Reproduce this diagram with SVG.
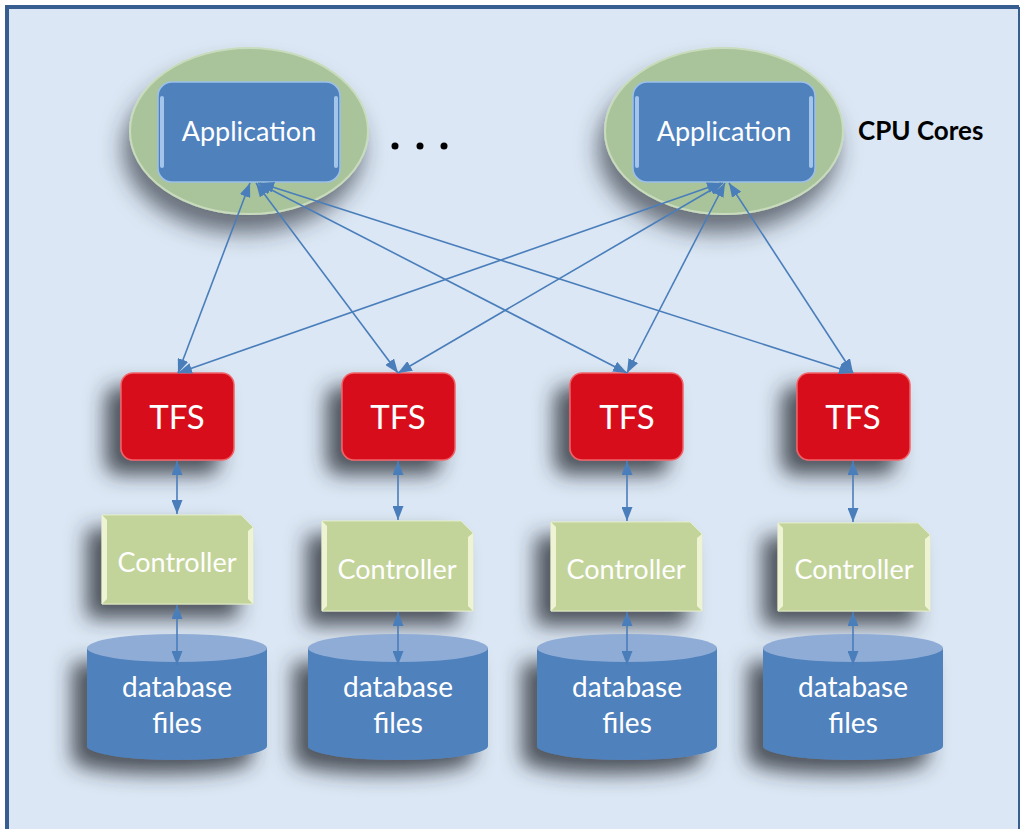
<svg xmlns="http://www.w3.org/2000/svg" width="1021" height="829" viewBox="0 0 1021 829">
<defs>
<style>
.lbl{font-family:Lato,"Open Sans","Liberation Sans",sans-serif;fill:#ffffff;text-anchor:middle}
.conn{stroke:#4a7ebb;stroke-width:1.6;fill:none;marker-start:url(#ah);marker-end:url(#ah)}
.app{fill:#4f81bd;stroke:#9cc0ea;stroke-width:1.5}
.tfs{fill:#d7111b;stroke:#f0636a;stroke-width:1.5}
.ctl{fill:#c3d49b;stroke:#e2ebc5;stroke-width:1}
.cyl{fill:#4f81bd}
.cyltop{fill:#8eacd6}
.core{fill:#a9c49b;stroke:#c9dbbd;stroke-width:2}
</style>
<marker id="ah" viewBox="0 0 14 11" refX="14" refY="5.5" markerWidth="14" markerHeight="11" markerUnits="userSpaceOnUse" orient="auto-start-reverse">
<path d="M0,0 L14,5.5 L0,11 z" fill="#4a7ebb"/>
</marker>
<filter id="sh" x="-50%" y="-50%" width="200%" height="200%">
<feDropShadow dx="-15" dy="14" stdDeviation="10" flood-color="#2a3038" flood-opacity="0.8"/>
</filter>
<filter id="shc" x="-40%" y="-40%" width="180%" height="180%">
<feDropShadow dx="-6" dy="18" stdDeviation="11" flood-color="#2a3038" flood-opacity="0.65"/>
</filter>
</defs>
<rect x="0" y="0" width="1021" height="829" fill="#ffffff"/>
<rect x="7" y="7" width="1012" height="822" fill="#dbe7f4"/>
<path d="M7,829 V7 H1019" fill="none" stroke="#375e90" stroke-width="4"/>
<line x1="1019" y1="7" x2="1019" y2="829" stroke="#375e90" stroke-width="2"/>

<g id="core1">
<ellipse class="core" cx="249" cy="131" rx="119" ry="83" filter="url(#shc)"/>
</g>
<g id="core2">
<ellipse class="core" cx="724" cy="131" rx="119" ry="83" filter="url(#shc)"/>
</g>
<g id="app1">
<rect class="app" x="158" y="82" width="182" height="100" rx="14"/>
<rect x="160" y="96" width="4" height="72" rx="2" fill="#b8d6f7" opacity="0.8"/>
<rect x="334" y="96" width="4" height="72" rx="2" fill="#b8d6f7" opacity="0.8"/>
<text class="lbl" x="249" y="141" font-size="27">Application</text>
</g>
<g id="app2">
<rect class="app" x="633" y="82" width="182" height="100" rx="14"/>
<rect x="635" y="96" width="4" height="72" rx="2" fill="#b8d6f7" opacity="0.8"/>
<rect x="809" y="96" width="4" height="72" rx="2" fill="#b8d6f7" opacity="0.8"/>
<text class="lbl" x="724" y="141" font-size="27">Application</text>
</g>
<g id="ellipsis">
<circle cx="395" cy="146" r="3.5" fill="#000"/>
<circle cx="420" cy="146" r="3.5" fill="#000"/>
<circle cx="444" cy="146" r="3.5" fill="#000"/>
</g>
<g id="cpu-label">
<text x="858" y="140" font-family="Lato,'Open Sans','Liberation Sans',sans-serif" font-size="26" font-weight="bold" fill="#000">CPU Cores</text>
</g>

<g id="tfs1"><rect class="tfs" x="121" y="373" width="113" height="87" rx="12" filter="url(#sh)"/><text class="lbl" x="177" y="429" font-size="33">TFS</text></g>
<g id="tfs2"><rect class="tfs" x="342" y="373" width="113" height="87" rx="12" filter="url(#sh)"/><text class="lbl" x="398" y="429" font-size="33">TFS</text></g>
<g id="tfs3"><rect class="tfs" x="570" y="373" width="113" height="87" rx="12" filter="url(#sh)"/><text class="lbl" x="627" y="429" font-size="33">TFS</text></g>
<g id="tfs4"><rect class="tfs" x="797" y="373" width="113" height="87" rx="12" filter="url(#sh)"/><text class="lbl" x="853" y="429" font-size="33">TFS</text></g>

<g id="ctl1">
<path class="ctl" d="M102,515 H241 L253,527 V604 H102 Z" filter="url(#sh)"/>
<path d="M102,515 L107,520 V599 L102,604 Z" fill="#eef3d3"/>
<path d="M253,527 L248,531 V599 L253,604 Z" fill="#eef3d3"/>
<text class="lbl" x="177" y="572" font-size="27">Controller</text>
</g>
<g id="ctl2">
<path class="ctl" d="M322,521 H461 L473,533 V611 H322 Z" filter="url(#sh)"/>
<path d="M322,521 L327,526 V606 L322,611 Z" fill="#eef3d3"/>
<path d="M473,533 L468,537 V606 L473,611 Z" fill="#eef3d3"/>
<text class="lbl" x="397" y="579" font-size="27">Controller</text>
</g>
<g id="ctl3">
<path class="ctl" d="M551,522 H690 L702,534 V611 H551 Z" filter="url(#sh)"/>
<path d="M551,522 L556,527 V606 L551,611 Z" fill="#eef3d3"/>
<path d="M702,534 L697,538 V606 L702,611 Z" fill="#eef3d3"/>
<text class="lbl" x="626" y="579" font-size="27">Controller</text>
</g>
<g id="ctl4">
<path class="ctl" d="M778,523 H918 L930,535 V611 H778 Z" filter="url(#sh)"/>
<path d="M778,523 L783,528 V606 L778,611 Z" fill="#eef3d3"/>
<path d="M930,535 L925,539 V606 L930,611 Z" fill="#eef3d3"/>
<text class="lbl" x="854" y="579" font-size="27">Controller</text>
</g>

<g id="db1">
<path class="cyl" d="M87,648 V746 A90,14 0 0 0 267,746 V648 Z" filter="url(#sh)"/>
<ellipse class="cyltop" cx="177" cy="648" rx="90" ry="14"/>
<text class="lbl" x="177" y="697" font-size="28">database</text>
<text class="lbl" x="177" y="733" font-size="28">files</text>
</g>
<g id="db2">
<path class="cyl" d="M308,648 V746 A90,14 0 0 0 488,746 V648 Z" filter="url(#sh)"/>
<ellipse class="cyltop" cx="398" cy="648" rx="90" ry="14"/>
<text class="lbl" x="398" y="697" font-size="28">database</text>
<text class="lbl" x="398" y="733" font-size="28">files</text>
</g>
<g id="db3">
<path class="cyl" d="M537,648 V746 A90,14 0 0 0 717,746 V648 Z" filter="url(#sh)"/>
<ellipse class="cyltop" cx="627" cy="648" rx="90" ry="14"/>
<text class="lbl" x="627" y="697" font-size="28">database</text>
<text class="lbl" x="627" y="733" font-size="28">files</text>
</g>
<g id="db4">
<path class="cyl" d="M763,648 V746 A90,14 0 0 0 943,746 V648 Z" filter="url(#sh)"/>
<ellipse class="cyltop" cx="853" cy="648" rx="90" ry="14"/>
<text class="lbl" x="853" y="697" font-size="28">database</text>
<text class="lbl" x="853" y="733" font-size="28">files</text>
</g>

<g id="connectors">
<line class="conn" x1="250" y1="183" x2="178" y2="373"/>
<line class="conn" x1="256" y1="183" x2="398" y2="373"/>
<line class="conn" x1="258" y1="183" x2="627" y2="373"/>
<line class="conn" x1="260" y1="183" x2="853" y2="373"/>
<line class="conn" x1="721" y1="183" x2="178" y2="373"/>
<line class="conn" x1="723" y1="183" x2="398" y2="373"/>
<line class="conn" x1="725" y1="183" x2="627" y2="373"/>
<line class="conn" x1="729" y1="183" x2="853" y2="373"/>
<line class="conn" x1="177" y1="461" x2="177" y2="514"/>
<line class="conn" x1="398" y1="461" x2="398" y2="520"/>
<line class="conn" x1="627" y1="461" x2="627" y2="521"/>
<line class="conn" x1="853" y1="461" x2="853" y2="522"/>
<line class="conn" x1="177" y1="605" x2="177" y2="665"/>
<line class="conn" x1="398" y1="612" x2="398" y2="665"/>
<line class="conn" x1="627" y1="612" x2="627" y2="665"/>
<line class="conn" x1="853" y1="612" x2="853" y2="665"/>
</g>
</svg>
